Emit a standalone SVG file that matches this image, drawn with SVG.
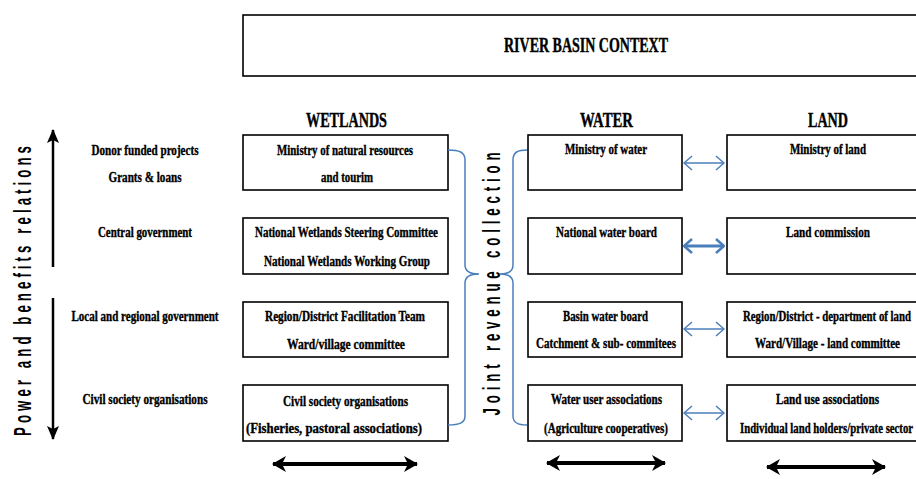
<svg xmlns="http://www.w3.org/2000/svg" width="916" height="479" viewBox="0 0 916 479">
  <style>
    .box { fill: #fff; stroke: #000; stroke-width: 1.6; }
    .t { font-family: "Liberation Serif", "Times New Roman", serif; font-weight: bold; font-size: 14px; fill: #000; stroke: #000; stroke-width: 0.35; text-anchor: middle; }
    .h { font-family: "Liberation Serif", "Times New Roman", serif; font-weight: bold; font-size: 20px; fill: #000; stroke: #000; stroke-width: 0.4; text-anchor: middle; }
    .v { font-family: "Liberation Sans", Arial, sans-serif; font-weight: bold; font-size: 24px; fill: #000; text-anchor: middle; }
    .link { fill: none; stroke: #4a7ebb; stroke-width: 1.5; }
    .scale { fill: none; stroke: #000; stroke-width: 4; }
    .axis { fill: none; stroke: #000; stroke-width: 2.5; }
  </style>
  <defs>
    <marker id="openHead" viewBox="0 0 10 16" refX="9" refY="8" markerWidth="10" markerHeight="16" markerUnits="userSpaceOnUse" orient="auto-start-reverse">
      <path d="M1,1 L9,8 L1,15" fill="none" stroke="#4a7ebb" stroke-width="1.5"/>
    </marker>
    <marker id="openHeadBold" viewBox="0 0 10 16" refX="9" refY="8" markerWidth="10" markerHeight="16" markerUnits="userSpaceOnUse" orient="auto-start-reverse">
      <path d="M1,1 L9,8 L1,15" fill="none" stroke="#4a7ebb" stroke-width="2.5"/>
    </marker>
    <marker id="solidHead" viewBox="0 0 14 16" refX="13" refY="8" markerWidth="14" markerHeight="16" markerUnits="userSpaceOnUse" orient="auto-start-reverse">
      <path d="M0,0 L14,8 L0,16 L4,8 Z" fill="#000"/>
    </marker>
    <marker id="axisHead" viewBox="0 0 14 12" refX="13" refY="6" markerWidth="14" markerHeight="12" markerUnits="userSpaceOnUse" orient="auto">
      <path d="M0,0 L14,6 L0,12 L3,6 Z" fill="#000"/>
    </marker>
  </defs>

  <!-- overall context -->
  <g id="context">
    <rect class="box" x="243" y="15" width="700" height="61"/>
    <text class="h" x="586" y="52" textLength="164" lengthAdjust="spacingAndGlyphs">RIVER BASIN CONTEXT</text>
  </g>

  <!-- column headings -->
  <g id="headings">
    <text class="h" x="346.5" y="127" textLength="81" lengthAdjust="spacingAndGlyphs">WETLANDS</text>
    <text class="h" x="606.5" y="127" textLength="53" lengthAdjust="spacingAndGlyphs">WATER</text>
    <text class="h" x="828" y="127" textLength="40" lengthAdjust="spacingAndGlyphs">LAND</text>
  </g>

  <!-- power axis -->
  <g id="power-axis">
    <text class="v" transform="translate(31,291) rotate(-90) scale(0.55,1)" textLength="527" lengthAdjust="spacing">Power and benefits relations</text>
    <line class="axis" x1="53" y1="267" x2="53" y2="130" marker-end="url(#axisHead)"/>
    <line class="axis" x1="53" y1="298" x2="53" y2="439" marker-end="url(#axisHead)"/>
  </g>

  <!-- level labels -->
  <g id="levels">
    <text class="t" x="145" y="155" textLength="107" lengthAdjust="spacingAndGlyphs">Donor funded projects</text>
    <text class="t" x="145" y="182" textLength="73" lengthAdjust="spacingAndGlyphs">Grants &amp; loans</text>
    <text class="t" x="145" y="237" textLength="94" lengthAdjust="spacingAndGlyphs">Central government</text>
    <text class="t" x="145" y="321" textLength="147" lengthAdjust="spacingAndGlyphs">Local and regional government</text>
    <text class="t" x="145" y="404" textLength="125" lengthAdjust="spacingAndGlyphs">Civil society organisations</text>
  </g>

  <!-- wetlands column -->
  <g id="wetlands-ministry">
    <rect class="box" x="243" y="135" width="205" height="55"/>
    <text class="t" x="345" y="155" textLength="136" lengthAdjust="spacingAndGlyphs">Ministry of natural resources</text>
    <text class="t" x="347" y="182" textLength="52" lengthAdjust="spacingAndGlyphs">and tourim</text>
  </g>
  <g id="wetlands-national">
    <rect class="box" x="243" y="218" width="205" height="56"/>
    <text class="t" x="346.5" y="237" textLength="183" lengthAdjust="spacingAndGlyphs">National Wetlands Steering Committee</text>
    <text class="t" x="347" y="266" textLength="166" lengthAdjust="spacingAndGlyphs">National Wetlands Working Group</text>
  </g>
  <g id="wetlands-regional">
    <rect class="box" x="243" y="302" width="205" height="55"/>
    <text class="t" x="345" y="321" textLength="160" lengthAdjust="spacingAndGlyphs">Region/District Facilitation Team</text>
    <text class="t" x="346" y="349" textLength="118" lengthAdjust="spacingAndGlyphs">Ward/village  committee</text>
  </g>
  <g id="wetlands-civil">
    <rect class="box" x="243" y="385" width="205" height="56"/>
    <text class="t" x="345.5" y="406" textLength="125" lengthAdjust="spacingAndGlyphs">Civil society organisations</text>
    <text class="t" x="334" y="433" textLength="176" lengthAdjust="spacingAndGlyphs">(Fisheries, pastoral associations)</text>
  </g>

  <!-- water column -->
  <g id="water-ministry">
    <rect class="box" x="528" y="135" width="154" height="55"/>
    <text class="t" x="606" y="154" textLength="82" lengthAdjust="spacingAndGlyphs">Ministry of water</text>
  </g>
  <g id="water-national">
    <rect class="box" x="528" y="218" width="154" height="56"/>
    <text class="t" x="606.5" y="237" textLength="101" lengthAdjust="spacingAndGlyphs">National water board</text>
  </g>
  <g id="water-basin">
    <rect class="box" x="528" y="302" width="154" height="55"/>
    <text class="t" x="605.5" y="321" textLength="85" lengthAdjust="spacingAndGlyphs">Basin water board</text>
    <text class="t" x="606" y="348" textLength="140" lengthAdjust="spacingAndGlyphs">Catchment &amp; sub- commitees</text>
  </g>
  <g id="water-users">
    <rect class="box" x="528" y="385" width="154" height="56"/>
    <text class="t" x="606.5" y="404" textLength="111" lengthAdjust="spacingAndGlyphs">Water user associations</text>
    <text class="t" x="606" y="433" textLength="124" lengthAdjust="spacingAndGlyphs">(Agriculture cooperatives)</text>
  </g>

  <!-- land column -->
  <g id="land-ministry">
    <rect class="box" x="727" y="135" width="220" height="55"/>
    <text class="t" x="828" y="154" textLength="76" lengthAdjust="spacingAndGlyphs">Ministry of land</text>
  </g>
  <g id="land-commission">
    <rect class="box" x="727" y="218" width="220" height="56"/>
    <text class="t" x="828" y="237" textLength="84" lengthAdjust="spacingAndGlyphs">Land commission</text>
  </g>
  <g id="land-regional">
    <rect class="box" x="727" y="302" width="220" height="55"/>
    <text class="t" x="827" y="321" textLength="168" lengthAdjust="spacingAndGlyphs">Region/District - department of land</text>
    <text class="t" x="827.5" y="348" textLength="145" lengthAdjust="spacingAndGlyphs">Ward/Village - land committee</text>
  </g>
  <g id="land-users">
    <rect class="box" x="727" y="385" width="220" height="56"/>
    <text class="t" x="827.5" y="404" textLength="103" lengthAdjust="spacingAndGlyphs">Land use associations</text>
    <text class="t" x="740" y="433" style="text-anchor:start" textLength="173" lengthAdjust="spacingAndGlyphs">Individual land holders/private sector</text>
  </g>

  <!-- revenue label between the braces -->
  <g id="revenue">
    <text class="v" transform="translate(500,284) rotate(-90) scale(0.55,1)" textLength="478" lengthAdjust="spacing">Joint revenue collection</text>
  </g>

  <!-- connectors -->
  <g id="connectors">
    <!-- braces gathering the wetlands and water columns -->
    <path class="link" d="M448,150 C459,150 465,152 465,160 L465,265 C465,271 469,274 479,274 C469,274 465,277 465,283 L465,416 C465,423 459,425 448,425"/>
    <path class="link" d="M527,150 C518,150 513,152 513,160 L513,265 C513,271 509,274 500,274 C509,274 513,277 513,283 L513,416 C513,423 518,425 527,425"/>

    <!-- water / land links -->
    <line class="link" x1="684" y1="163" x2="724" y2="163" marker-start="url(#openHead)" marker-end="url(#openHead)"/>
    <line class="link" style="stroke-width:3" x1="684" y1="246" x2="724" y2="246" marker-start="url(#openHeadBold)" marker-end="url(#openHeadBold)"/>
    <line class="link" x1="684" y1="329" x2="724" y2="329" marker-start="url(#openHead)" marker-end="url(#openHead)"/>
    <line class="link" x1="684" y1="413" x2="724" y2="413" marker-start="url(#openHead)" marker-end="url(#openHead)"/>

    <!-- span arrows under each column -->
    <line class="scale" x1="273" y1="464" x2="417" y2="464" marker-start="url(#solidHead)" marker-end="url(#solidHead)"/>
    <line class="scale" x1="547" y1="463" x2="665" y2="463" marker-start="url(#solidHead)" marker-end="url(#solidHead)"/>
    <line class="scale" x1="767" y1="467" x2="885" y2="467" marker-start="url(#solidHead)" marker-end="url(#solidHead)"/>
  </g>
</svg>
